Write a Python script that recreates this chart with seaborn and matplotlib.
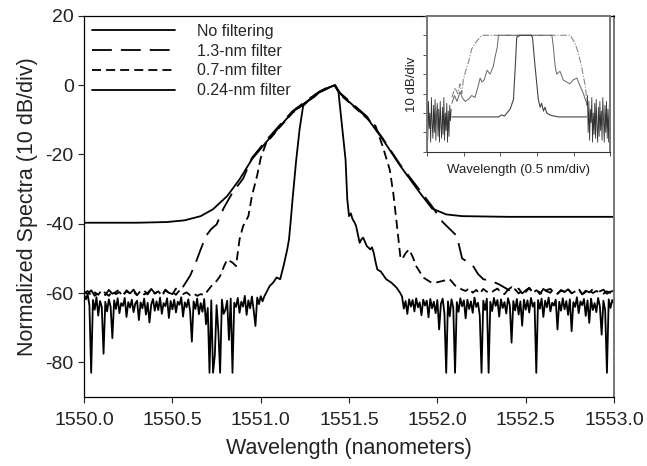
import numpy as np
import matplotlib
matplotlib.use("Agg")
import matplotlib.pyplot as plt
import seaborn as sns

# values: wavelength (nm) and level (dB)
# noisy floors are given as (start, step, levels) on the analyser sampling grid

no_filter_x = [1550.00, 1550.30, 1550.47, 1550.57, 1550.66, 1550.73, 1550.81, 1550.88, 1550.95,
               1551.03, 1551.11, 1551.18, 1551.24, 1551.33, 1551.38, 1551.42, 1551.45, 1551.50,
               1551.60, 1551.69, 1551.79, 1551.90, 1551.97, 1552.05, 1552.14, 1552.40, 1553.00]
no_filter_y = [-39.7, -39.7, -39.5, -39.0, -37.8, -35.8, -32.0, -27.2, -21.4,
               -16.5, -11.8, -7.8, -5.5, -2.1, -0.8, 0.0, -2.5, -4.8,
               -9.3, -15.6, -23.3, -31.0, -35.6, -37.3, -37.8, -38.0, -38.0]

f13_left = (1550.00, 0.02, [-59.6, -60.3, -59.2, -60.8, -59.9, -59.4, -60.6, -59.1, -60.2, -59.7,
                            -58.9, -60.5, -59.5, -60.1, -59.0, -60.7, -59.8, -59.3, -60.4, -58.8,
                            -60.0, -59.6, -60.9, -59.2, -59.9, -60.3, -58.7, -59.5, -58.2])
f13_x = [1550.60, 1550.63, 1550.66, 1550.69, 1550.72, 1550.75, 1550.79, 1550.84, 1550.90, 1550.95,
         1551.03, 1551.11, 1551.18, 1551.24, 1551.33, 1551.38, 1551.42, 1551.45, 1551.50, 1551.60,
         1551.69, 1551.79, 1551.90, 1551.97, 1552.03, 1552.07, 1552.11, 1552.14, 1552.17, 1552.20,
         1552.23, 1552.26, 1552.31, 1552.35, 1552.38]
f13_y = [-55.0, -51.5, -47.4, -43.5, -41.5, -40.2, -35.5, -31.0, -27.0, -21.0,
         -16.0, -11.4, -7.5, -5.2, -1.9, -0.6, 0.0, -2.3, -4.5, -9.0,
         -15.3, -23.0, -30.3, -35.0, -39.5, -41.5, -43.5, -50.0, -51.0, -52.0,
         -54.5, -56.0, -56.6, -57.5, -58.4]
f13_right = (1552.40, 0.02, [-59.0, -58.3, -59.6, -58.7, -60.1, -59.2, -58.5, -59.8, -59.0, -60.3,
                             -58.8, -59.5, -59.9, -58.6, -60.2, -59.1, -59.7, -58.9, -60.0, -59.4,
                             -58.7, -60.4, -59.3, -59.8, -58.9, -60.1, -59.5, -59.0, -60.2, -59.6,
                             -59.3])

f07_left = (1550.00, 0.02, [-60.2, -59.4, -60.7, -59.8, -60.5, -59.1, -60.0, -60.8, -59.5, -60.3,
                            -59.7, -60.9, -59.2, -60.1, -59.6, -60.6, -59.3, -60.4, -59.9, -58.9,
                            -60.2, -59.5, -60.7, -59.0, -60.0, -59.6, -60.5, -59.2, -60.3, -59.8,
                            -60.6, -60.1, -60.8, -60.3, -60.6])
f07_x = [1550.72, 1550.75, 1550.77, 1550.79, 1550.81, 1550.84, 1550.86, 1550.88, 1550.90, 1550.93,
         1550.95, 1550.98, 1551.00, 1551.03, 1551.11, 1551.18, 1551.24, 1551.33, 1551.38, 1551.42,
         1551.45, 1551.50, 1551.60, 1551.65, 1551.69, 1551.73, 1551.75, 1551.77, 1551.79, 1551.80,
         1551.82, 1551.84, 1551.86, 1551.88, 1551.92, 1551.96, 1551.99, 1552.03, 1552.07, 1552.10,
         1552.14]
f07_y = [-58.0, -56.5, -55.1, -52.5, -50.3, -51.2, -52.2, -44.5, -40.7, -37.8,
         -32.0, -26.0, -21.0, -16.8, -12.0, -8.0, -5.6, -2.2, -0.9, -0.2,
         -2.7, -5.0, -9.5, -11.8, -17.6, -24.3, -31.0, -40.0, -49.3, -50.3,
         -48.5, -47.4, -49.5, -52.2, -55.5, -56.8, -57.0, -56.5, -56.0, -57.8,
         -59.0]
f07_right = (1552.16, 0.02, [-59.4, -58.6, -59.9, -59.1, -60.2, -58.8, -59.6, -60.0, -59.3, -58.7,
                             -59.8, -60.3, -59.0, -59.5, -58.9, -60.1, -59.4, -59.7, -58.5, -60.0,
                             -59.2, -59.8, -60.4, -59.1, -58.8, -59.9, -60.2, -59.3, -59.6, -58.9,
                             -60.1, -59.5, -59.0, -60.3, -59.7, -59.2, -60.0, -59.4, -59.8, -60.2,
                             -59.5, -59.9, -59.6])

f024_left = (1550.00, 0.01, [-60.5, -61.8, -60.4, -63.5, -83.0, -62.0, -64.8, -61.2, -66.5, -62.3,
                             -64.0, -77.5, -62.5, -65.3, -61.8, -63.9, -73.0, -62.1, -64.6, -61.5,
                             -65.8, -62.9, -63.7, -61.4, -66.9, -62.6, -64.2, -61.9, -65.5, -63.0,
                             -62.2, -67.8, -62.7, -64.4, -61.6, -66.2, -62.8, -68.5, -63.3, -61.7,
                             -65.1, -62.4, -64.9, -61.3, -66.0, -62.9, -63.8, -61.5, -67.2, -62.3,
                             -64.7, -61.9, -65.6, -62.5, -63.4, -61.2, -66.8, -62.7, -64.1, -61.8,
                             -65.2, -74.0, -62.4, -64.6, -61.6, -66.1, -62.9, -65.4, -61.7, -69.0,
                             -64.3, -83.0, -62.1, -83.0, -78.0, -63.5, -71.0, -83.0, -61.9, -66.0,
                             -64.8, -62.2, -73.5, -61.6, -83.0, -62.8, -64.0, -61.4, -65.7, -62.5,
                             -63.9, -60.8, -66.3, -62.1, -64.4, -61.0, -65.0, -69.5, -61.3, -63.2,
                             -60.9, -62.4, -61.0])
f024_x = [1551.03, 1551.05, 1551.07, 1551.09, 1551.11, 1551.13, 1551.15, 1551.16, 1551.17, 1551.18,
          1551.20, 1551.22, 1551.24, 1551.27, 1551.30, 1551.33, 1551.38, 1551.42, 1551.44, 1551.46,
          1551.48, 1551.49, 1551.50, 1551.51, 1551.52, 1551.53, 1551.54, 1551.56, 1551.57, 1551.58,
          1551.60, 1551.62, 1551.63, 1551.64, 1551.65, 1551.66, 1551.68, 1551.71, 1551.74, 1551.77,
          1551.79]
f024_y = [-60.0, -58.0, -57.0, -55.5, -56.0, -52.0, -47.4, -44.5, -39.0, -33.0,
          -22.0, -12.7, -6.0, -4.5, -3.5, -2.1, -0.8, 0.0, -2.0, -11.8,
          -21.4, -33.0, -37.8, -37.0, -38.7, -39.5, -40.7, -45.5, -44.5, -44.0,
          -46.4, -47.4, -46.8, -48.5, -51.0, -53.2, -53.8, -56.0, -57.0, -58.5,
          -60.0]
f024_right = (1551.80, 0.01, [-61.0, -64.5, -62.3, -66.0, -61.8, -63.9, -62.0, -65.3, -61.5, -64.1,
                              -62.7, -66.4, -61.9, -63.6, -62.2, -67.0, -61.7, -64.4, -62.5, -65.8,
                              -62.0, -70.5, -63.1, -61.6, -65.9, -83.0, -62.4, -66.7, -61.8, -64.2,
                              -83.0, -62.6, -65.4, -61.5, -63.8, -62.1, -67.3, -61.9, -64.6, -62.4,
                              -65.7, -61.3, -64.0, -62.8, -66.5, -83.0, -62.2, -64.9, -61.6, -83.0,
                              -62.5, -65.2, -61.4, -63.7, -62.0, -66.8, -61.8, -64.3, -62.6, -65.9,
                              -61.5, -63.4, -74.3, -62.3, -65.0, -61.7, -66.2, -62.4, -69.4, -61.9,
                              -64.8, -62.1, -65.6, -61.4, -63.9, -62.7, -83.0, -62.0, -64.5, -61.6,
                              -66.9, -62.2, -64.1, -61.3, -65.3, -62.8, -63.6, -61.9, -70.5, -62.5,
                              -65.1, -61.5, -64.7, -62.3, -66.3, -61.8, -71.0, -62.6, -64.0, -61.2,
                              -65.8, -62.4, -63.5, -61.7, -66.6, -62.1, -68.6, -61.6, -64.9, -62.9,
                              -65.5, -61.4, -63.8, -72.0, -62.2, -65.0, -83.0, -61.8, -64.3, -62.0,
                              -63.0])

# inset, in divisions (x: 0.5 nm/div, y: 10 dB/div)
ins_wide_x = [0.68, 0.76, 0.84, 0.90, 0.95, 0.99, 1.06, 1.13, 1.22, 1.36, 1.50, 2.00, 3.00, 3.91,
              4.04, 4.13, 4.22, 4.32, 4.36]
ins_wide_y = [2.8, 3.3, 3.0, 3.5, 3.0, 3.7, 4.2, 4.6, 5.3, 5.7, 6.0, 6.0, 6.0, 6.0,
              5.6, 5.1, 4.4, 3.4, 2.7]
ins_mid_x = [0.68, 0.75, 0.82, 0.90, 0.96, 1.04, 1.13, 1.22, 1.31, 1.40, 1.45, 1.50, 1.56, 1.64,
             1.72, 1.81, 1.86, 1.92, 1.95, 2.20, 2.60, 3.00, 3.41, 3.45, 3.50, 3.54, 3.63, 3.72,
             3.81, 3.90, 3.99, 4.09, 4.18, 4.27, 4.32, 4.36]
ins_mid_y = [2.5, 2.9, 2.6, 3.1, 2.8, 2.6, 2.7, 2.9, 2.8, 3.4, 3.8, 3.6, 3.7, 4.2,
             4.0, 4.4, 4.9, 5.4, 6.0, 6.0, 6.0, 6.0, 6.0, 5.4, 4.4, 4.0, 4.15, 3.7,
             3.6, 3.5, 3.7, 3.8, 3.4, 3.0, 2.7, 2.5]
ins_narrow_x = [0.68, 1.00, 1.50, 1.95, 2.04, 2.12, 2.18, 2.27, 2.36, 2.41, 2.45, 2.55, 2.65, 2.75,
                2.84, 2.88, 2.95, 3.04, 3.09, 3.13, 3.18, 3.22, 3.27, 3.36, 3.45, 3.60, 4.00, 4.36]
ins_narrow_y = [1.8, 1.8, 1.8, 1.8, 1.9, 1.85, 2.0, 2.2, 2.7, 4.4, 5.9, 6.0, 6.0, 6.0,
                6.0, 5.9, 4.4, 2.7, 2.3, 2.5, 2.1, 2.3, 2.0, 1.9, 1.85, 1.8, 1.8, 1.8]
ins_noise_left = (0.0, 0.02, [2.3, 0.6, 2.6, 1.2, 2.0, 0.5, 2.8, 1.5, 0.7, 2.4, 1.0, 2.7, 0.6, 1.9,
                              2.5, 0.8, 2.2, 0.5, 2.6, 1.4, 0.7, 2.3, 0.9, 2.8, 0.6, 2.0, 1.1, 2.5,
                              0.5, 2.1, 0.8, 2.4, 1.6, 2.2])
ins_noise_right = (4.36, 0.02, [2.4, 2.9, 1.0, 2.6, 0.6, 2.2, 1.5, 2.8, 0.5, 2.0, 0.9, 2.5, 0.7,
                                2.7, 1.3, 0.5, 2.3, 0.8, 2.6, 1.1, 2.1, 0.6, 2.8, 1.7, 0.5, 2.4,
                                1.0, 2.6, 0.7, 2.2, 0.5, 2.5, 1.9])


def grid(seg):
    start, step, vals = seg
    x = start + step * np.arange(len(vals))
    return list(x), list(vals)


def join(*parts):
    xs, ys = [], []
    for x, y in parts:
        xs += list(x)
        ys += list(y)
    return xs, ys


f13 = join(grid(f13_left), (f13_x, f13_y), grid(f13_right))
f07 = join(grid(f07_left), (f07_x, f07_y), grid(f07_right))
f024 = join(grid(f024_left), (f024_x, f024_y), grid(f024_right))

sns.set_style("ticks")
plt.rcParams["font.family"] = ["Liberation Sans", "DejaVu Sans"]
plt.rcParams["axes.unicode_minus"] = False

fig = plt.figure(figsize=(6.47, 4.66), dpi=100)
ax = fig.add_axes([0.130, 0.148, 0.819, 0.818])

lw = 1.3
sns.lineplot(x=no_filter_x, y=no_filter_y, ax=ax, color="black", lw=lw,
             sort=False, estimator=None, label="No filtering")
sns.lineplot(x=f13[0], y=f13[1], ax=ax, color="black", lw=lw, linestyle=(0, (11, 5)),
             sort=False, estimator=None, label="1.3-nm filter")
sns.lineplot(x=f07[0], y=f07[1], ax=ax, color="black", lw=lw, linestyle=(0, (5, 2.8)),
             sort=False, estimator=None, label="0.7-nm filter")
sns.lineplot(x=f024[0], y=f024[1], ax=ax, color="black", lw=lw,
             sort=False, estimator=None, label="0.24-nm filter")

ax.set_xlim(1550.0, 1553.0)
ax.set_ylim(-90, 20)
ax.set_xticks(np.arange(1550.0, 1553.01, 0.5))
ax.set_xticklabels([f"{v:.1f}" for v in np.arange(1550.0, 1553.01, 0.5)])
ax.set_yticks(np.arange(-80, 21, 20))
ax.tick_params(direction="out", length=4, width=0.8, labelsize=14, colors="#222222")
ax.tick_params(axis="x", pad=7)
ax.set_xlabel("Wavelength (nanometers)", fontsize=15.5, color="#222222", labelpad=6)
ax.set_ylabel("Normalized Spectra (10 dB/div)", fontsize=15.5, color="#222222", labelpad=5)
for s in ax.spines.values():
    s.set_color("black")
    s.set_linewidth(0.9)
ax.spines["right"].set_color("#777777")
ax.spines["right"].set_linewidth(1.4)

ax.legend(loc="upper left", bbox_to_anchor=(0.0, 1.0), frameon=False, fontsize=11.5,
          handlelength=5.2, handletextpad=1.35, labelspacing=0.3, borderaxespad=0.1)

# inset
ins = fig.add_axes([0.660, 0.674, 0.283, 0.292])
nx, ny = join(grid(ins_noise_left))
sns.lineplot(x=nx, y=ny, ax=ins, color="#333333", lw=0.6, sort=False, estimator=None)
nx, ny = join(grid(ins_noise_right))
sns.lineplot(x=nx, y=ny, ax=ins, color="#333333", lw=0.6, sort=False, estimator=None)
sns.lineplot(x=ins_wide_x, y=ins_wide_y, ax=ins, color="#888888", lw=0.8,
             linestyle=(0, (6, 1.5, 1, 1.5)), sort=False, estimator=None)
sns.lineplot(x=ins_mid_x, y=ins_mid_y, ax=ins, color="#666666", lw=0.7,
             sort=False, estimator=None)
sns.lineplot(x=ins_narrow_x, y=ins_narrow_y, ax=ins, color="#444444", lw=0.8,
             sort=False, estimator=None)
ins.set_xlim(0, 5)
ins.set_ylim(0, 7)
ins.set_xticks(np.arange(0, 6, 1))
ins.set_yticks(np.arange(0, 8, 1))
ins.set_xticklabels([])
ins.set_yticklabels([])
ins.tick_params(direction="out", length=3, width=0.6, colors="#333333")
ins.set_xlabel("Wavelength (0.5 nm/div)", fontsize=9.5, labelpad=2, color="#222222")
ins.set_ylabel("10 dB/div", fontsize=9.5, labelpad=0, color="#222222")
for side in ["left", "right", "top"]:
    ins.spines[side].set_color("#777777")
    ins.spines[side].set_linewidth(1.4)
ins.spines["bottom"].set_color("#333333")
ins.spines["bottom"].set_linewidth(0.8)

fig.savefig("out.png", dpi=100)
